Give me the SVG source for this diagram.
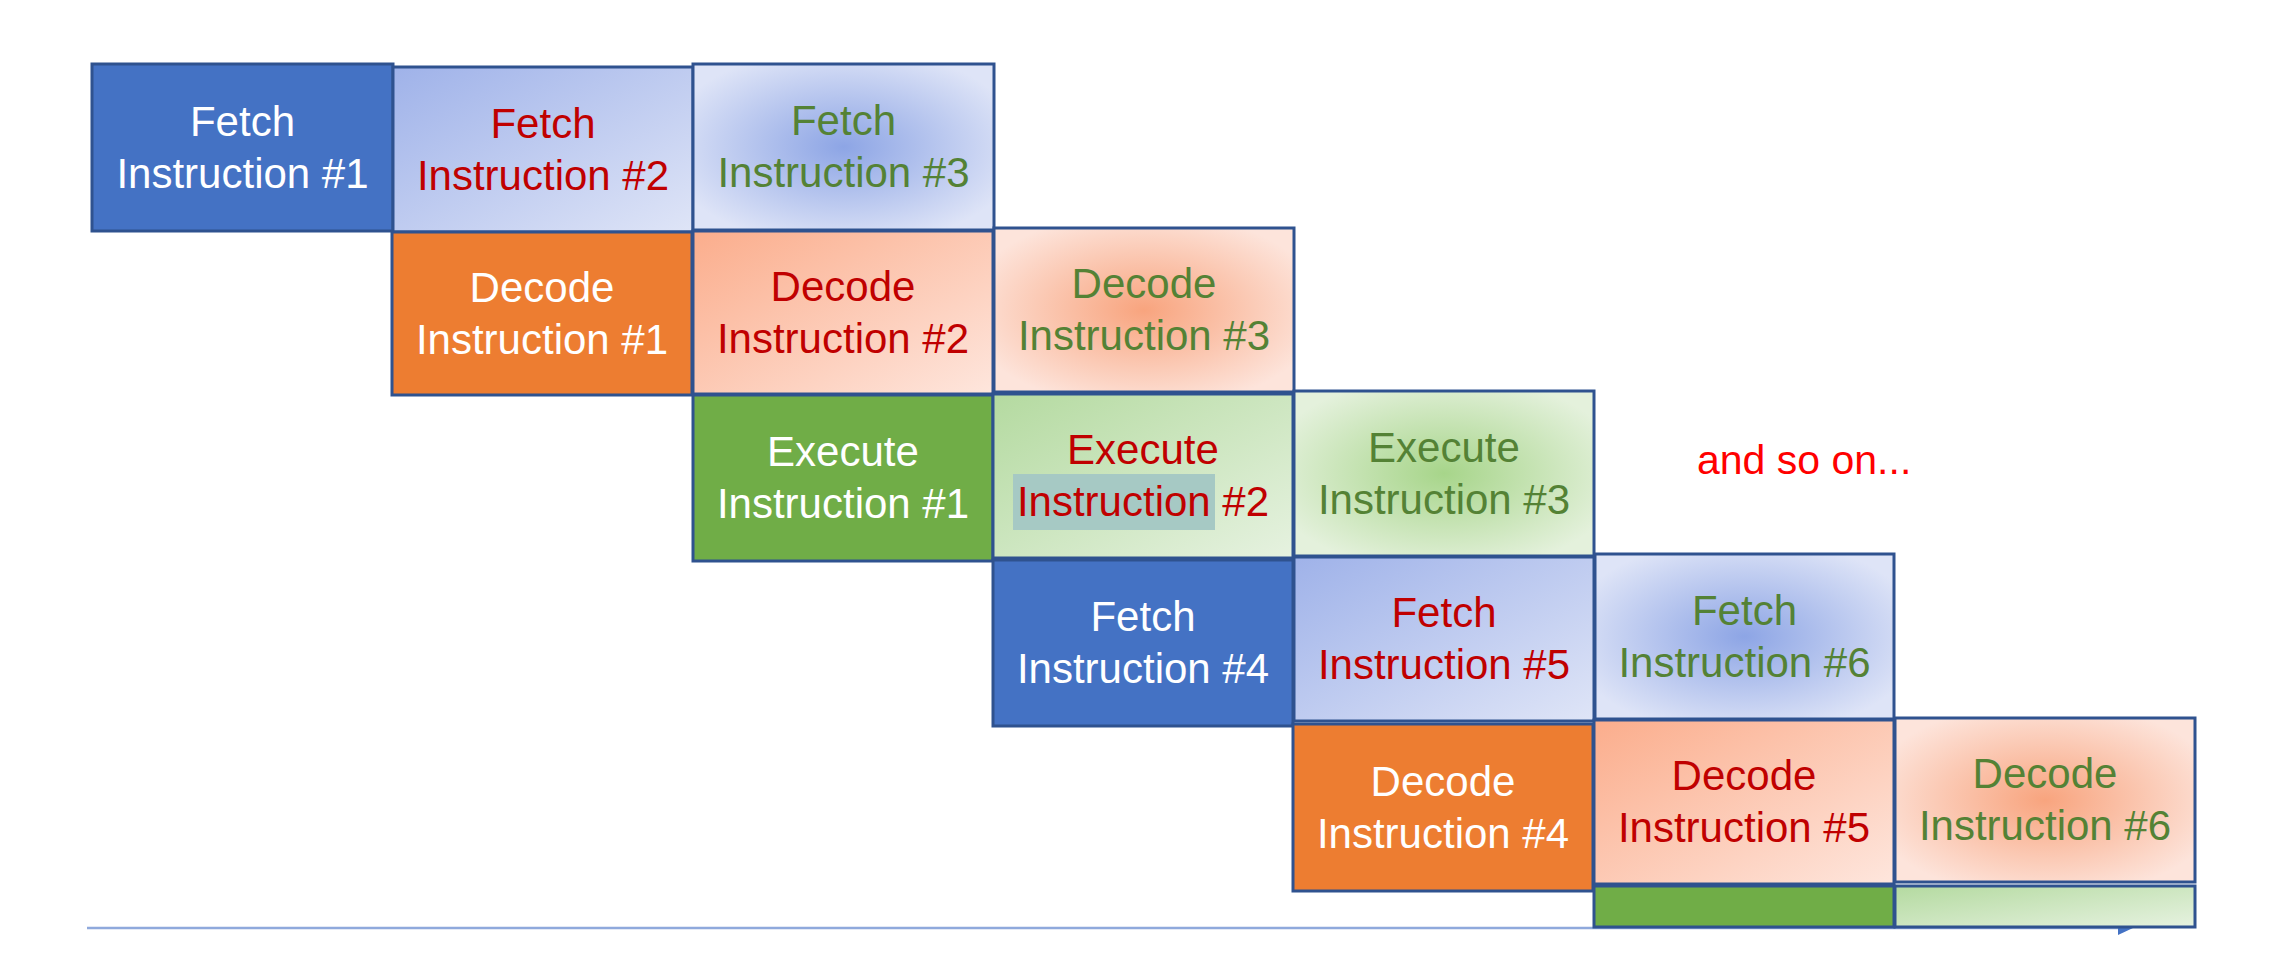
<svg xmlns="http://www.w3.org/2000/svg" width="2288" height="966" viewBox="0 0 2288 966">
<defs>
<linearGradient id="linBlue" x1="0" y1="0" x2="1" y2="1"><stop offset="0" stop-color="#9FB2E9"/><stop offset="1" stop-color="#DFE5F7"/></linearGradient>
<radialGradient id="radBlue" cx="0.5" cy="0.5" r="0.6"><stop offset="0" stop-color="#8DA5E5"/><stop offset="1" stop-color="#DEE4F7"/></radialGradient>
<linearGradient id="linOrange" x1="0" y1="0" x2="1" y2="1"><stop offset="0" stop-color="#FBAD8C"/><stop offset="1" stop-color="#FEE6DD"/></linearGradient>
<radialGradient id="radOrange" cx="0.5" cy="0.5" r="0.6"><stop offset="0" stop-color="#F8A47E"/><stop offset="1" stop-color="#FDE4DB"/></radialGradient>
<linearGradient id="linGreen" x1="0" y1="0" x2="1" y2="1"><stop offset="0" stop-color="#B4DAA0"/><stop offset="1" stop-color="#E6F2E0"/></linearGradient>
<radialGradient id="radGreen" cx="0.5" cy="0.5" r="0.6"><stop offset="0" stop-color="#A7D58A"/><stop offset="1" stop-color="#E4F1DC"/></radialGradient>
<style>
rect.box{stroke:#2F528F;stroke-width:3}
.sb{fill:#4472C4}.so{fill:#ED7D31}.sg{fill:#70AD47}
.lb{fill:url(#linBlue)}.rb{fill:url(#radBlue)}
.lo{fill:url(#linOrange)}.ro{fill:url(#radOrange)}
.lg{fill:url(#linGreen)}.rg{fill:url(#radGreen)}
text{font-family:"Liberation Sans",Arial,sans-serif;font-size:42px;text-anchor:middle}
.w{fill:#FFFFFF}.r{fill:#C00000}.g{fill:#548235}
</style>
</defs>
<rect width="2288" height="966" fill="#FFFFFF"/>
<g id="connectors">
<line x1="87" y1="928" x2="2120" y2="928" stroke="#8FA9DC" stroke-width="2.5"/>
<polygon points="2118,921 2133,928 2118,935" fill="#4472C4"/>
</g>
<g id="fetch1"><rect class="box sb" x="92" y="64" width="301" height="167"/><text class="w" x="242.5" y="136">Fetch</text><text class="w" x="242.5" y="188">Instruction #1</text></g>
<g id="fetch2"><rect class="box lb" x="393" y="67" width="300" height="165"/><text class="r" x="543" y="138">Fetch</text><text class="r" x="543" y="190">Instruction #2</text></g>
<g id="fetch3"><rect class="box rb" x="693" y="64" width="301" height="166"/><text class="g" x="843.5" y="135">Fetch</text><text class="g" x="843.5" y="187">Instruction #3</text></g>
<g id="decode1"><rect class="box so" x="392" y="232" width="300" height="163"/><text class="w" x="542" y="302">Decode</text><text class="w" x="542" y="354">Instruction #1</text></g>
<g id="decode2"><rect class="box lo" x="693" y="231" width="300" height="163"/><text class="r" x="843" y="301">Decode</text><text class="r" x="843" y="353">Instruction #2</text></g>
<g id="decode3"><rect class="box ro" x="994" y="228" width="300" height="164"/><text class="g" x="1144" y="298">Decode</text><text class="g" x="1144" y="350">Instruction #3</text></g>
<g id="execute1"><rect class="box sg" x="693" y="395" width="300" height="166"/><text class="w" x="843" y="466">Execute</text><text class="w" x="843" y="518">Instruction #1</text></g>
<g id="execute2"><rect class="box lg" x="993" y="394" width="300" height="164"/><rect x="1013" y="474" width="202" height="56" fill="#A6C9C4"/><text class="r" x="1143" y="464">Execute</text><text class="r" x="1143" y="516">Instruction #2</text></g>
<g id="execute3"><rect class="box rg" x="1294" y="391" width="300" height="165"/><text class="g" x="1444" y="462">Execute</text><text class="g" x="1444" y="514">Instruction #3</text></g>
<g id="fetch4"><rect class="box sb" x="993" y="560" width="300" height="166"/><text class="w" x="1143" y="631">Fetch</text><text class="w" x="1143" y="683">Instruction #4</text></g>
<g id="fetch5"><rect class="box lb" x="1294" y="557" width="300" height="164"/><text class="r" x="1444" y="627">Fetch</text><text class="r" x="1444" y="679">Instruction #5</text></g>
<g id="fetch6"><rect class="box rb" x="1595" y="554" width="299" height="165"/><text class="g" x="1744.5" y="625">Fetch</text><text class="g" x="1744.5" y="677">Instruction #6</text></g>
<g id="decode4"><rect class="box so" x="1293" y="724" width="300" height="167"/><text class="w" x="1443" y="796">Decode</text><text class="w" x="1443" y="848">Instruction #4</text></g>
<g id="decode5"><rect class="box lo" x="1594" y="720" width="300" height="164"/><text class="r" x="1744" y="790">Decode</text><text class="r" x="1744" y="842">Instruction #5</text></g>
<g id="decode6"><rect class="box ro" x="1895" y="718" width="300" height="164"/><text class="g" x="2045" y="788">Decode</text><text class="g" x="2045" y="840">Instruction #6</text></g>
<g id="execute5"><rect class="box sg" x="1594" y="886" width="300" height="41"/></g>
<g id="execute6"><rect class="box lg" x="1895" y="886" width="300" height="41"/></g>
<g id="note"><text x="1697" y="474" style="fill:#FF0000;font-size:41px;text-anchor:start">and so on...</text></g>
</svg>
